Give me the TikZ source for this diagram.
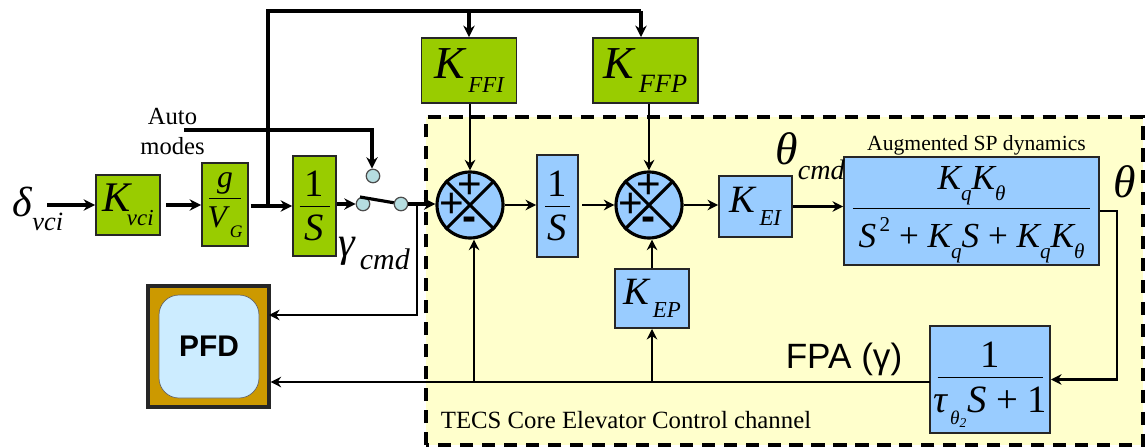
\documentclass[tikz,border=0pt]{standalone}
\usepackage{fontspec}
\setmainfont{Liberation Serif}
\setsansfont{Liberation Sans}
\usepackage{tikz}
\usetikzlibrary{shapes, arrows.meta, positioning}
\definecolor{gaingreen}{HTML}{99CC00}
\definecolor{coreblue}{HTML}{99CCFF}
\definecolor{coreyellow}{HTML}{FFFFCC}
\definecolor{bezel}{HTML}{CC9900}
\definecolor{screen}{HTML}{CCECFF}
\definecolor{contact}{HTML}{B5DDE0}
\newcommand{\sz}[1]{\fontsize{#1}{#1}\selectfont\itshape}
\newcommand{\lo}[2]{\raisebox{-.32em}{\fontsize{#1}{#1}\selectfont\itshape #2}}
\newcommand{\ratio}[4]{\raisebox{-#2}[0pt][0pt]{\begin{tabular}{@{}c@{}}#3\\[-6pt]\rule{#1}{.5pt}\\[1pt]#4\end{tabular}}}
\tikzstyle{arrow} = [->,>={Stealth[length=6.5pt,width=6.5pt]},line width=1.8pt]
\tikzstyle{thin arrow} = [->,>={Stealth[length=6pt,width=6pt]},line width=1.4pt]
\tikzstyle{line} = [-,line width=1.8pt]
\tikzstyle{green box} = [draw=black!85,line width=1.1pt,fill=gaingreen,inner sep=0pt]
\tikzstyle{blue box} = [draw=black!85,line width=1.1pt,fill=coreblue,inner sep=0pt]
\tikzstyle{sum} = [circle,draw,line width=1.8pt,fill=coreblue,minimum size=1.32cm,inner sep=0pt]
\tikzstyle{pole} = [circle,draw=black!70,line width=.7pt,fill=contact,minimum size=.27cm,inner sep=0pt]
\tikzstyle{sign} = [inner sep=0pt,font=\sffamily\fontsize{24}{24}\selectfont]

\begin{document}
\begin{tikzpicture}
    \useasboundingbox (0, 0) rectangle (22.9, 8.94);

    % core channel frame
    \draw [fill=coreyellow, line width=1.8pt, dash pattern=on 7.5pt off 5pt] (8.52, .04) rectangle (22.86, 6.6);

    % gains and blocks
    \node [green box, minimum width=1.28cm, minimum height=1.2cm] (Kvci) at (2.56, 4.84) {\sz{24}K\hspace{-2pt}\lo{13}{vci}};
    \node [green box, minimum width=.92cm, minimum height=1.66cm] (gain) at (4.5, 4.85) {\ratio{.64cm}{3pt}{\sz{18}g}{\sz{18}V\lo{10}{\,G}}};
    \node [green box, minimum width=.86cm, minimum height=2cm] (intcmd) at (6.29, 4.82) {\ratio{.6cm}{4pt}{\sz{22}\upshape 1}{\sz{22}S}};
    \node [green box, minimum width=1.9cm, minimum height=1.3cm] (KFFI) at (9.38, 7.53) {\sz{26}K\lo{13}{\,FFI}};
    \node [green box, minimum width=2.1cm, minimum height=1.3cm] (KFFP) at (12.91, 7.53) {\sz{26}K\lo{15}{\,FFP}};
    \node [blue box, minimum width=.82cm, minimum height=2.04cm] (intcore) at (11.15, 4.82) {\ratio{.5cm}{4pt}{\sz{22}\upshape 1}{\sz{22}S}};
    \node [blue box, minimum width=1.46cm, minimum height=1.22cm] (KEI) at (15.11, 4.81) {\sz{22}K\lo{13}{\,EI}};
    \node [blue box, minimum width=1.48cm, minimum height=1.18cm] (KEP) at (13.04, 2.97) {\sz{22}K\lo{13}{\,EP}};
    \node [blue box, minimum width=5.1cm, minimum height=2.16cm] (SP) at (19.43, 4.72) {\ratio{4.75cm}{4.5pt}{\sz{20}K\lo{12}{q}K\lo{12}{θ}}{\sz{20}S\raisebox{.45em}{\fontsize{12}{12}\selectfont\upshape\,2} {\upshape +} K\lo{12}{q}S {\upshape +} K\lo{12}{q}K\lo{12}{θ}}};
    \node [blue box, minimum width=2.4cm, minimum height=2.14cm] (tau) at (19.8, 1.35) {\ratio{2.1cm}{5.5pt}{\sz{22}\upshape 1}{\rule{0pt}{8pt}\sz{22}τ\lo{11}{\,θ\textsubscript{2}}S {\upshape +} {\upshape 1}}};

    % display
    \node [draw=black!85, line width=1.8pt, fill=bezel, minimum size=2.42cm] (pfd) at (4.17, 2.01) {};
    \node [draw=black!60, fill=screen, rounded corners=.4cm, minimum width=2cm, minimum height=2.06cm, font=\sffamily\bfseries\fontsize{17}{17}\selectfont] (display) at (4.18, 2.01) {PFD};

    % summing junctions
    \foreach \name/\x in {sum1/9.4, sum2/12.98} {
        \node [sum] (\name) at (\x, 4.84) {};
        \draw [line] (\name.45) -- (\name.225);
        \draw [line] (\name.135) -- (\name.315);
        \node [sign] at ([yshift=.37cm]\name.center) {+};
        \node [sign] at ([xshift=-.36cm]\name.center) {+};
        \node [sign, font=\sffamily\bfseries\fontsize{24}{24}\selectfont] at ([yshift=-.38cm]\name.center) {-};
    }

    % mode switch
    \node [pole] (sw1) at (7.26, 4.86) {};
    \node [pole] (sw2) at (8.02, 4.86) {};
    \node [pole] (sw3) at (7.46, 5.42) {};

    % free ends and branch points
    \coordinate (vcistart) at (.94, 4.84);
    \coordinate (autostart) at (3.68, 6.34);
    \coordinate (autocorner) at (7.44, 6.34);
    \coordinate (ffbranch) at (5.36, 4.82);
    \coordinate (fftop) at (5.36, 8.72);
    \coordinate (ffend) at (12.82, 8.72);
    \coordinate (swbranch) at (8.34, 4.86);
    \coordinate (lever) at (7.2, 5);
    \coordinate (pfdcmd) at (5.38, 2.64);
    \coordinate (fpa) at (18.6, 1.3);
    \coordinate (fbsum) at (9.48, 1.3);
    \coordinate (fbgain) at (13.04, 1.3);
    \coordinate (thetaout) at (22.34, 4.72);

    % forward path
    \draw [arrow] (vcistart) -- (Kvci);
    \draw [arrow, shorten <=3pt] (Kvci) -- (Kvci -| gain.west);
    \draw [arrow, shorten <=1pt] (gain.east |- ffbranch) -- (intcmd.west |- ffbranch);
    \draw [arrow] (intcmd.east |- sw1) -- (sw1);
    \draw [arrow] (sw2) -- (sw2 -| sum1.west);
    \draw [line] (ffbranch) -- (fftop) -- (ffend);
    \draw [arrow] (KFFI.north |- fftop) -- (KFFI);
    \draw [arrow] (ffend) -- (ffend |- KFFP.north);
    \draw [thin arrow] (sum1 |- KFFI.south) -- (sum1);
    \draw [thin arrow] (sum2 |- KFFP.south) -- (sum2);
    \draw [thin arrow] (sum1) -- (sum1 -| intcore.west);
    \draw [thin arrow, shorten <=2pt] (sum1 -| intcore.east) -- (sum2);
    \draw [thin arrow] (sum2) -- (sum2 -| KEI.west);
    \draw [thin arrow] (KEI) -- (KEI -| SP.west);

    % feedback path
    \draw [thin arrow] (SP.east) -- (thetaout) |- (tau.east);
    \draw [thin arrow] (fpa) -- (fpa -| pfd.east);
    \draw [thin arrow] (fbsum) -- (fbsum |- sum1.south);
    \draw [thin arrow] (fbgain) -- (KEP);
    \draw [thin arrow] (KEP) -- (KEP |- sum2.south);

    % switch lines
    \draw [arrow] (autostart) -- (autocorner) -- (autocorner |- sw3.north);
    \draw [thin arrow] (swbranch) |- (pfdcmd);
    \draw [line] (lever) -- (sw2);

    % labels
    \node at (.76, 4.76) {\sz{24}δ\lo{15}{vci}};
    \node at (7.48, 3.87) {\sz{24}γ\lo{17}{\,cmd}};
    \node at (16.2, 5.82) {\sz{26}θ\lo{16}{cmd}};
    \node at (22.5, 5.3) {\sz{26}θ};
    \node [font=\sffamily\fontsize{20}{20}\selectfont] at (16.88, 1.76) {FPA (γ)};
    \node [align=center, font=\fontsize{14}{17}\selectfont] at (3.45, 6.31) {Auto\\modes};
    \node [font=\fontsize{12.3}{12.3}\selectfont] at (19.53, 6.04) {Augmented SP dynamics};
    \node [font=\fontsize{14.1}{14.1}\selectfont] at (12.52, .54) {TECS Core Elevator Control channel};
\end{tikzpicture}
\end{document}
